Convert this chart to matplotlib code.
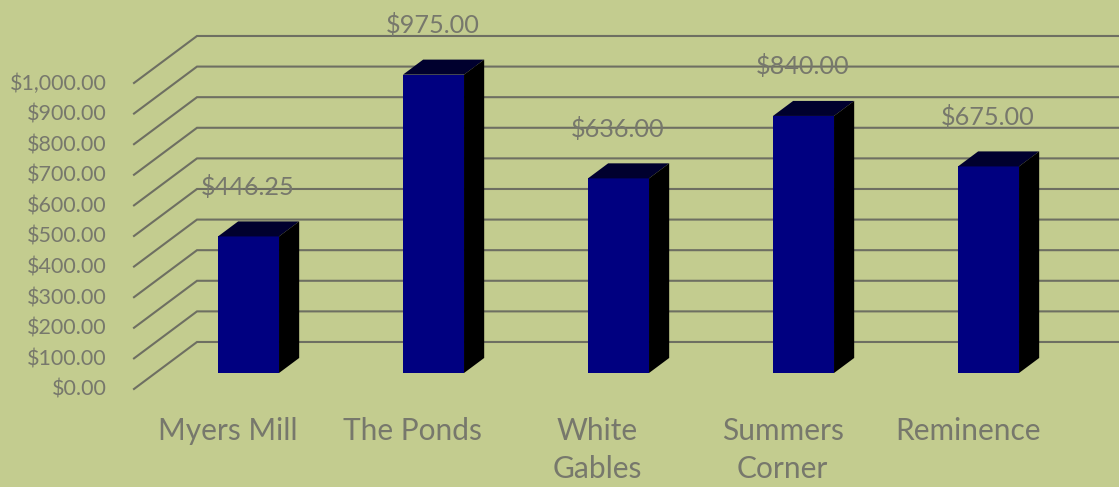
import numpy as np
import matplotlib
matplotlib.use("Agg")
import matplotlib.pyplot as plt
from matplotlib.patches import Polygon

categories = ["Myers Mill", "The Ponds", "White\nGables", "Summers\nCorner", "Reminence"]
values = [446.25, 975.0, 636.0, 840.0, 675.0]
value_labels = ["$446.25", "$975.00", "$636.00", "$840.00", "$675.00"]
y_ticks = [0, 100, 200, 300, 400, 500, 600, 700, 800, 900, 1000]
y_tick_labels = ["$0.00", "$100.00", "$200.00", "$300.00", "$400.00", "$500.00",
                 "$600.00", "$700.00", "$800.00", "$900.00", "$1,000.00"]

BG = "#c3cc8f"
GRID = "#6e6f62"
TEXT = "#77786c"

plt.rcParams['font.family'] = ['Lato', 'DejaVu Sans']

fig = plt.figure(figsize=(11.19, 4.87), dpi=100, facecolor=BG)
ax = fig.add_axes([0, 0, 1, 1])
ax.set_facecolor(BG)
ax.axis("off")

# scales: 185 px per category, 0.306 px per dollar
px_x = 185.0
px_y = 0.306
ax.set_xlim(-248.5 / px_x, (1119 - 248.5) / px_x)
ax.set_ylim(-(487 - 373) / px_y, 373 / px_y)

# fake 3d: depth 0 is the front of the floor, 1 the back wall
depth_x = 63.0 / px_x
depth_y = 47.0 / px_y
bar_front = 0.34
bar_back = 0.66
bar_w = 0.33


def pt(x, v, d):
    return (x + (d - bar_front) * depth_x, v + (d - bar_front) * depth_y)


x_left = (134 - 248.5) / px_x - (0 - bar_front) * depth_x
x_right = ax.get_xlim()[1]

for v in y_ticks:
    p0 = pt(x_left, v, 0)
    p1 = pt(x_left, v, 1)
    ax.plot([p0[0], p1[0], x_right], [p0[1], p1[1], p1[1]], color=GRID, lw=1.5, zorder=1,
            solid_joinstyle="miter")
    ax.text(p0[0] - 27 / px_x, p0[1] - 1 / px_y, y_tick_labels[y_ticks.index(v)], ha="right", va="center",
            color=TEXT, fontsize=15.5, zorder=5)

for i, v in enumerate(values):
    l = i - bar_w / 2
    r = i + bar_w / 2
    ax.add_patch(Polygon([(l, 0), (r, 0), (r, v), (l, v)], closed=True, fc="#000080", ec="none", zorder=3))
    ax.add_patch(Polygon([pt(l, v, bar_front), pt(r, v, bar_front), pt(r, v, bar_back), pt(l, v, bar_back)],
                         closed=True, fc="#00002e", ec="none", zorder=3))
    ax.add_patch(Polygon([pt(r, 0, bar_front), pt(r, v, bar_front), pt(r, v, bar_back), pt(r, 0, bar_back)],
                         closed=True, fc="#000000", ec="none", zorder=3))
    ax.text(i - 0.5 / px_x, v + 49.5 / px_y, value_labels[i], ha="center", va="center", color=TEXT,
            fontsize=18.2, zorder=5)
    ax.text(i - 21 / px_x, -44 / px_y, categories[i], ha="center", va="top", color=TEXT, fontsize=21.5,
            linespacing=1.45, zorder=5)

fig.savefig("out.png", dpi=100, facecolor=BG)
